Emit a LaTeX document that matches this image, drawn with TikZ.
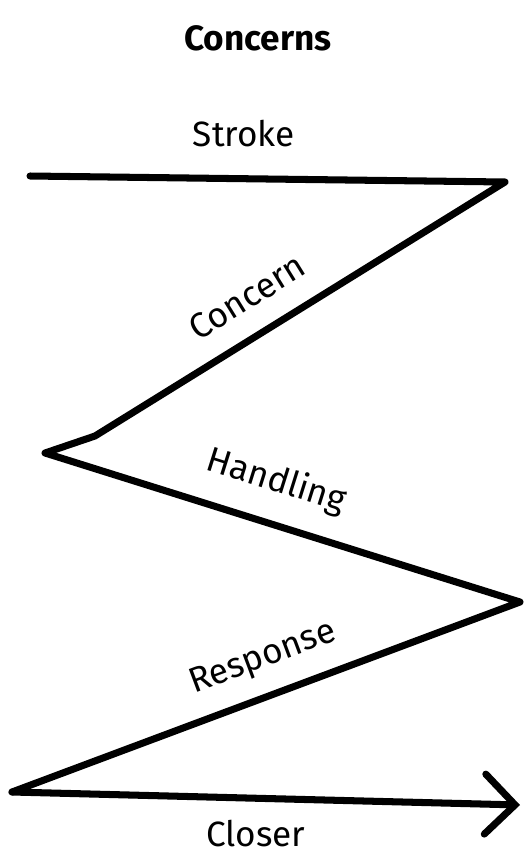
\documentclass[tikz,border=0pt]{standalone}
\usepackage{fontspec}
\setmainfont{Fira Sans}
\usepackage{tikz}
\usetikzlibrary{arrows.meta, positioning}

\begin{document}
\begin{tikzpicture}[
      x=0.03cm, y=-0.03cm,
      zline/.style={line width=6pt, line cap=round, line join=round},
      arrow/.style={-{Straight Barb[length=9mm, width=18mm, line width=6pt, line cap=round]}},
      label/.style={font=\fontsize{30}{36}\selectfont, inner sep=2pt},
      titlelbl/.style={font=\fontsize{30}{36}\selectfont\bfseries}
  ]

  \useasboundingbox (0,0) rectangle (523,856);

  % ══════════════════════════════
  % TITRE
  % ══════════════════════════════
  \node[titlelbl] (title) at (258,38) {Concerns};

  % ══════════════════════════════
  % POINTS DU ZIGZAG
  % ══════════════════════════════
  \coordinate (start)   at (30,176);
  \coordinate (turnA)   at (505,182);
  \coordinate (kinkA)   at (95,436);
  \coordinate (turnB)   at (45,453);
  \coordinate (turnC)   at (520,602);
  \coordinate (turnD)   at (12,792);
  \coordinate (finish)  at (520,805);

  % ══════════════════════════════
  % LIGNE EN ZIGZAG
  % ══════════════════════════════
  \draw[zline]
      (start) -- node[label, above=22pt, pos=0.45]{Stroke} (turnA)
      -- node[label, sloped, above=17pt, pos=0.58]{Concern} (kinkA)
      -- (turnB)
      -- node[label, sloped, above=16pt, pos=0.46]{Handling} (turnC)
      -- node[label, sloped, above=13pt, pos=0.48]{Response} (turnD);

  \draw[zline, arrow]
      (turnD) -- node[label, below=14pt, pos=0.48]{Closer} (finish);

  \end{tikzpicture}
\end{document}
